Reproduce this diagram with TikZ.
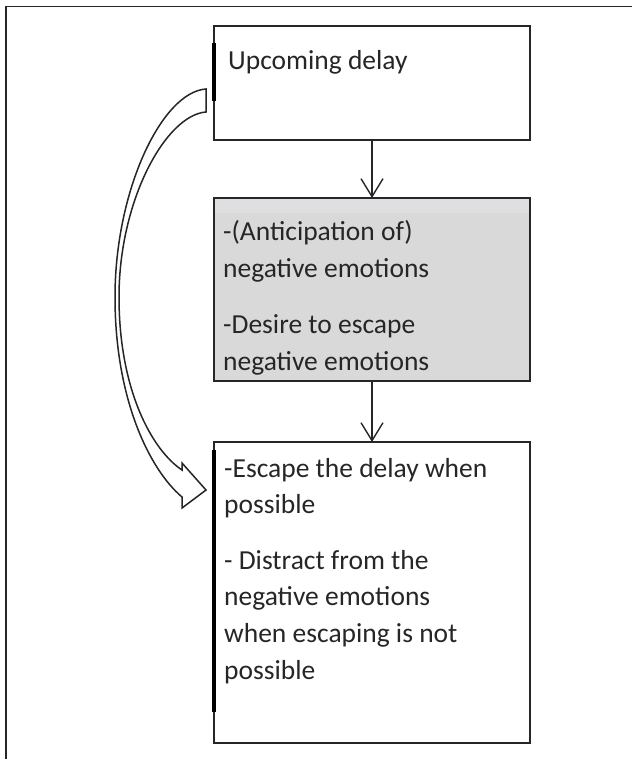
\documentclass[tikz,border=0pt]{standalone}
\usepackage{fontspec}
\setmainfont{Carlito}
\usetikzlibrary{arrows.meta}
\definecolor{ink}{HTML}{262626}
\definecolor{boxgray}{HTML}{D9D9D9}
\definecolor{stripgray}{HTML}{DFDFE1}
\begin{document}
\begin{tikzpicture}[x=1pt,y=-1pt,
  box/.style={draw=ink, line width=1.6pt, minimum width=316pt, minimum height=#1, anchor=north west, inner sep=0pt, outer sep=0pt},
  txt/.style={anchor=base west, inner sep=0pt, text=ink, font=\fontsize{27.5}{35}\selectfont},
  flow/.style={draw=ink, line width=1.4pt, -{Straight Barb[length=18pt,width=22pt,line width=1.4pt]}},
  bar/.style={line width=4pt, draw=black},
  frameline/.style={draw=ink, line width=1.2pt},
  bentarrow/.style={draw=ink, line width=1.5pt, fill=white, line join=miter}]
\useasboundingbox (0,0) rectangle (632,759);
\fill[white] (0,0) rectangle (632,759);
% outer frame
\coordinate (fTL) at (6,6.5);
\coordinate (fTR) at (632,6.5);
\coordinate (fBL) at (6,759);
\draw[frameline] (fTR) -- (fTL) -- (fBL);
% boxes
\node[box=114pt] (b1) at (214,26) {};
\node[box=183pt, fill=boxgray] (b2) at (214,198) {};
\fill[stripgray] (215,199) rectangle (529,213);
\draw[ink, line width=1.6pt] (b2.north west) rectangle (b2.south east);
\node[box=301pt] (b3) at (214,442) {};
% thick left bars
\coordinate (bar1a) at (214,43);
\coordinate (bar1b) at (214,101);
\draw[bar] (bar1a) -- (bar1b);
\coordinate (bar3a) at (214,450);
\coordinate (bar3b) at (214,712);
\draw[bar] (bar3a) -- (bar3b);
% texts
\node[txt] (t1) at (228,70) {Upcoming delay};
\node[txt] (t2a) at (223,240) {-(Anticipation of)};
\node[txt] (t2b) at (223,277) {negative emotions};
\node[txt] (t2c) at (223,333) {-Desire to escape};
\node[txt] (t2d) at (223,370) {negative emotions};
\node[txt] (t3a) at (224,477) {-Escape the delay when};
\node[txt] (t3b) at (224,513) {possible};
\node[txt] (t3c) at (224,569) {- Distract from the};
\node[txt] (t3d) at (224,605) {negative emotions};
\node[txt] (t3e) at (224,642) {when escaping is not};
\node[txt] (t3f) at (224,679) {possible};
% straight arrows
\draw[flow] (b1.south) -- (b2.north);
\draw[flow] (b2.south) -- (b3.north);
% curved block arrow
\draw[bentarrow] (206,89) .. controls (162,92) and (115,190) .. (115,297)
  .. controls (115,400) and (150,470) .. (182,497)
  -- (182,508) -- (206,490) -- (182,463) -- (182,470)
  .. controls (152,450) and (119,390) .. (119,297)
  .. controls (119,200) and (166,115) .. (206,112) -- cycle;
\end{tikzpicture}
\end{document}
